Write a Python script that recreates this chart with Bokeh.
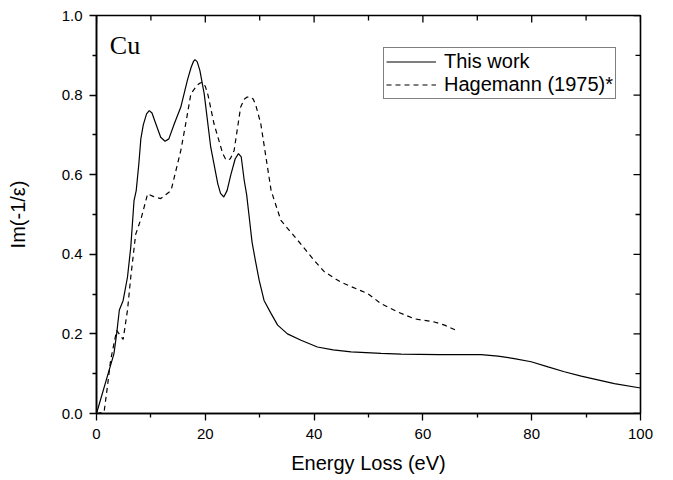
from bokeh.plotting import figure
from bokeh.models import Range1d, FixedTicker, Legend, LegendItem, Label, PrintfTickFormatter
from bokeh.embed import file_html
from bokeh.resources import INLINE

# ---- data ----
energy_this = [0, 3.2, 3.7, 4.2, 4.9, 5.7, 6.3, 6.9, 7.3, 7.8, 8.15, 8.6, 9.2, 9.7, 10.2,
               10.9, 11.8, 12.6, 13.3, 14.3, 15.5, 16.7, 17.4, 17.8, 18.1, 18.5, 19.0,
               19.8, 21.0, 22.3, 22.8, 23.4, 24.0, 24.7, 25.5, 26.1, 26.6, 27.15, 27.6,
               28.1, 28.6, 29.2, 29.9, 30.8, 32.1, 33.3, 35.1, 37.6, 40.6, 43.5, 46.8,
               52.3, 56.0, 63.0, 70.7, 73.8, 76.8, 79.9, 83.0, 86.0, 89.1, 95.2, 100]
im_this = [0, 0.15, 0.20, 0.26, 0.284, 0.343, 0.418, 0.535, 0.56, 0.63, 0.69, 0.725,
           0.753, 0.761, 0.755, 0.728, 0.694, 0.684, 0.69, 0.728, 0.77, 0.837, 0.87,
           0.884, 0.889, 0.884, 0.862, 0.803, 0.669, 0.577, 0.553, 0.544, 0.56, 0.60,
           0.64, 0.653, 0.645, 0.586, 0.55, 0.49, 0.43, 0.385, 0.335, 0.284, 0.251,
           0.222, 0.20, 0.184, 0.167, 0.16, 0.155, 0.151, 0.149, 0.148, 0.148, 0.144,
           0.138, 0.13, 0.117, 0.105, 0.094, 0.075, 0.064]

energy_hag = [0, 1.4, 2.0, 2.6, 3.7, 4.9, 5.7, 6.3, 7.2, 8.2, 9.4, 10.5, 11.8, 13.7,
              15.5, 16.4, 17.35, 18.5, 19.0, 19.5, 20.0, 20.5, 21.6, 23.2, 23.7, 24.1,
              24.6, 25.3, 26.5, 27.2, 27.7, 28.3, 28.8, 29.3, 30.2, 32.1, 33.9, 37.0,
              40.0, 41.9, 44.9, 49.9, 52.3, 55.4, 58.4, 62.1, 64.0, 66.1]
im_hag = [0, 0.004, 0.067, 0.134, 0.209, 0.186, 0.26, 0.343, 0.45, 0.49, 0.552, 0.545,
          0.54, 0.56, 0.661, 0.728, 0.803, 0.825, 0.83, 0.832, 0.822, 0.80, 0.728,
          0.653, 0.64, 0.636, 0.64, 0.661, 0.77, 0.79, 0.795, 0.795, 0.79, 0.774, 0.728,
          0.56, 0.485, 0.435, 0.385, 0.356, 0.33, 0.301, 0.276, 0.255, 0.238, 0.23,
          0.222, 0.209]

x_major = [0, 20, 40, 60, 80, 100]
x_minor = [10, 30, 50, 70, 90]
y_major = [0.0, 0.2, 0.4, 0.6, 0.8, 1.0]
y_minor = [0.1, 0.3, 0.5, 0.7, 0.9]

series_labels = ["This work", "Hagemann (1975)*"]
panel_label = "Cu"
x_title = "Energy Loss (eV)"
y_title = "Im(-1/\u03b5)"

FONT = "Liberation Sans"

p = figure(width=665, height=478,
           x_range=Range1d(x_major[0], x_major[-1]), y_range=Range1d(y_major[0], y_major[-1]),
           output_backend="svg", toolbar_location=None,
           min_border_left=96, min_border_right=25,
           min_border_top=15, min_border_bottom=65,
           background_fill_color="white", border_fill_color="white")
p.outline_line_color = "black"
p.outline_line_width = 1.6
p.xgrid.visible = False
p.ygrid.visible = False

r1 = p.line(energy_this, im_this, line_color="black", line_width=1.2)
r2 = p.line(energy_hag, im_hag, line_color="black", line_width=1.2, line_dash="5 4")

xt = FixedTicker(ticks=x_major, minor_ticks=x_minor)
yt = FixedTicker(ticks=y_major, minor_ticks=y_minor)


def style_main(ax, ticker, title):
    ax.ticker = ticker
    ax.axis_label = title
    ax.axis_label_text_font = FONT
    ax.axis_label_text_font_style = "normal"
    ax.axis_label_text_font_size = "20px"
    ax.axis_label_text_color = "black"
    ax.major_label_text_font = FONT
    ax.major_label_text_font_size = "15px"
    ax.major_label_text_color = "black"
    ax.axis_line_color = "black"
    ax.axis_line_width = 1.5
    ax.major_tick_line_color = "black"
    ax.minor_tick_line_color = "black"
    ax.major_tick_line_width = 1.3
    ax.minor_tick_line_width = 1.3
    ax.major_tick_out = 7
    ax.major_tick_in = 0
    ax.minor_tick_out = 4
    ax.minor_tick_in = 0


xa = p.xaxis[0]
style_main(xa, xt, x_title)
xa.major_label_standoff = 8
xa.axis_label_standoff = 10

ya = p.yaxis[0]
style_main(ya, yt, y_title)
ya.formatter = PrintfTickFormatter(format="%.1f")
ya.major_label_standoff = 7
ya.axis_label_standoff = 30

# inward ticks on the top and right frame edges (mirrored tick positions)
n_xM, n_xm = len(x_major), len(x_minor)
n_yM, n_ym = len(y_major), len(y_minor)
p.ray(x=x_major, y=[y_major[-1]] * n_xM, length=7, angle=-90, angle_units="deg",
      length_units="screen", line_color="black", line_width=1.3)
p.ray(x=x_minor, y=[y_major[-1]] * n_xm, length=5, angle=-90, angle_units="deg",
      length_units="screen", line_color="black", line_width=1.3)
p.ray(x=[x_major[-1]] * n_yM, y=y_major, length=7, angle=180, angle_units="deg",
      length_units="screen", line_color="black", line_width=1.3)
p.ray(x=[x_major[-1]] * n_ym, y=y_minor, length=5, angle=180, angle_units="deg",
      length_units="screen", line_color="black", line_width=1.3)

p.add_layout(Label(x=2.45, y=0.925, text=panel_label, text_font="Liberation Serif",
                   text_font_size="26px", text_color="black",
                   text_baseline="alphabetic"))

legend = Legend(items=[LegendItem(label=series_labels[0], renderers=[r1]),
                       LegendItem(label=series_labels[1], renderers=[r2])],
                location=(287, 314), margin=0, padding=2,
                border_line_color="black", border_line_width=1,
                background_fill_color="white", background_fill_alpha=1,
                label_text_font=FONT, label_text_font_size="20px",
                label_text_color="black",
                glyph_width=50, glyph_height=23, label_height=23,
                spacing=0, label_standoff=8)
p.add_layout(legend)

open("out.html", "w").write(file_html(p, INLINE))
